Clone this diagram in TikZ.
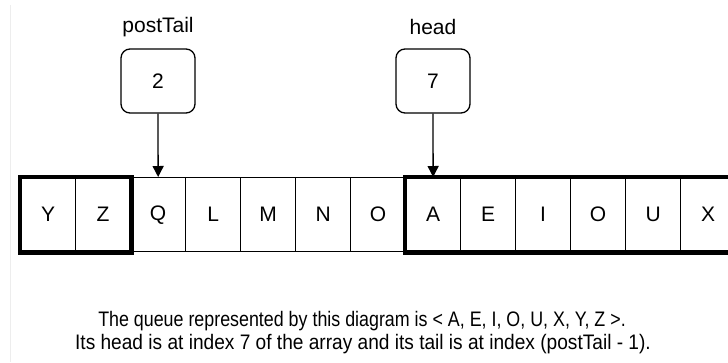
\documentclass[tikz,border=0pt]{standalone}
\usepackage{fontspec}
\setmainfont{Liberation Sans}
\usetikzlibrary{arrows.meta}

\begin{document}
\begin{tikzpicture}[x=1pt,y=-1pt,
  cell/.style={draw=black,line width=1.3pt,minimum width=55pt,minimum height=74pt,
    inner sep=0pt,anchor=north west,font=\fontsize{21}{24}\selectfont},
  varbox/.style={draw=black,line width=1.3pt,rounded corners=9pt,minimum width=74pt,
    minimum height=64pt,inner sep=0pt,font=\fontsize{21}{24}\selectfont},
  varname/.style={inner sep=0pt,font=\fontsize{21}{24}\selectfont},
  caption/.style={inner sep=0pt,font=\fontsize{21}{24}\selectfont},
  pointer/.style={line width=1.3pt,-{Triangle[length=11pt,width=11pt]}},
  group/.style={line width=4.5pt}]
  \useasboundingbox (0,0) rectangle (728,362);
  \fill[white] (0,0) rectangle (728,362);
  \draw[black!7,line width=0.8pt] (10.7,5) -- (10.7,362);

  % array cells, index 0 to 12
  \foreach \ch [count=\i from 0] in {Y,Z,Q,L,M,N,O,A,E,I,O,U,X}
    \node[cell] (c\i) at ({20+55*\i},177) {\ch};

  % occupied parts of the circular array
  \draw[group] (c0.north west) rectangle (c1.south east);
  \draw[group] (c7.north west) rectangle (c12.south east);

  % index variables
  \node[varbox] (pt) at (158,81) {2};
  \node[varbox] (hd) at (433,81) {7};
  \node[varname] (ptname) at (158,27) {postTail};
  \node[varname] (hdname) at (433,27) {head};

  \draw[pointer] (pt.south) -- (c2.north);
  \draw[pointer] (hd.south) -- (c7.north);

  % caption, two lines
  \node[caption] (cap1) at (362,321)
    {\scalebox{0.85}[1]{\vphantom{Ty}The queue represented by this diagram is < A, E, I, O, U, X, Y, Z >.}};
  \node[caption] (cap2) at (363,344)
    {\scalebox{0.91}[1]{\vphantom{Ty}Its head is at index 7 of the array and its tail is at index (postTail - 1).}};
\end{tikzpicture}
\end{document}
